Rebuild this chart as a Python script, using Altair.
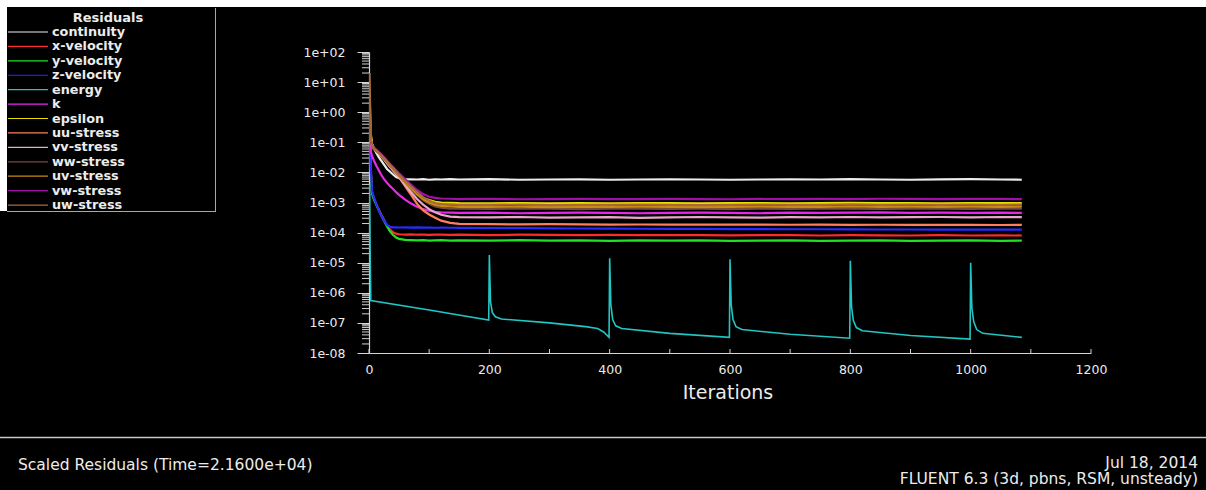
import altair as alt
import pandas as pd

# ---------------- data ----------------
NAMES = ["continuity", "x-velocity", "y-velocity", "z-velocity", "energy", "k", "epsilon",
         "uu-stress", "vv-stress", "ww-stress", "uv-stress", "vw-stress", "uw-stress"]
COLORS = ["#ececec", "#ff2a2a", "#22e022", "#2a2aff", "#22c4c4", "#e82ae8", "#e8e000",
          "#ff7f5a", "#e8a8c8", "#7a4a3a", "#c88a10", "#a010a8", "#a86838"]

ITER = [1, 2, 3, 5, 8, 12, 16, 20, 25, 30, 35, 40, 45, 50, 60, 70, 80, 90, 100, 110, 120, 135,
        150, 200, 250, 300, 350, 400, 450, 500, 550, 600, 650, 700, 750, 800, 850, 900, 950, 1000, 1050, 1085]

continuity = [1.0, 0.35, 0.16, 0.09, 0.065, 0.045, 0.033, 0.025, 0.018, 0.013, 0.0105, 0.0085, 0.007, 0.0064,
              0.0060, 0.0059, 0.0058, 0.0060, 0.0057, 0.0059, 0.0058, 0.0060,
              0.0058, 0.0060, 0.0057, 0.0058, 0.0059, 0.0057, 0.0058, 0.0059, 0.0058, 0.0057,
              0.0058, 0.0059, 0.0058, 0.0060, 0.0058, 0.0057, 0.0059, 0.0060, 0.0058, 0.0057]
x_velocity = [1.0, 0.12, 0.012, 2.2e-3, 1.4e-3, 9.0e-4, 6.0e-4, 4.0e-4, 2.6e-4, 1.7e-4, 1.25e-4, 1.02e-4, 9.2e-5, 8.8e-5,
              8.6e-5, 8.7e-5, 8.5e-5, 8.6e-5, 8.4e-5, 8.6e-5, 8.5e-5, 8.4e-5,
              8.5e-5, 8.3e-5, 8.5e-5, 8.4e-5, 8.2e-5, 8.4e-5, 8.3e-5, 8.2e-5, 8.3e-5, 8.1e-5,
              8.3e-5, 8.2e-5, 8.0e-5, 8.2e-5, 8.1e-5, 8.0e-5, 8.2e-5, 8.0e-5, 8.1e-5, 8.0e-5]
y_velocity = [1.0, 0.1, 0.01, 2.0e-3, 1.3e-3, 8.5e-4, 5.7e-4, 3.9e-4, 2.5e-4, 1.6e-4, 1.1e-4, 8.3e-5, 6.9e-5, 6.2e-5,
              5.7e-5, 5.6e-5, 5.5e-5, 5.6e-5, 5.4e-5, 5.5e-5, 5.6e-5, 5.4e-5,
              5.5e-5, 5.4e-5, 5.6e-5, 5.4e-5, 5.5e-5, 5.3e-5, 5.5e-5, 5.4e-5, 5.5e-5, 5.3e-5,
              5.4e-5, 5.5e-5, 5.3e-5, 5.4e-5, 5.5e-5, 5.3e-5, 5.4e-5, 5.5e-5, 5.3e-5, 5.4e-5]
z_velocity = [1.0, 0.15, 0.015, 2.5e-3, 1.5e-3, 9.0e-4, 5.8e-4, 3.8e-4, 2.5e-4, 1.8e-4, 1.55e-4, 1.5e-4, 1.49e-4, 1.48e-4,
              1.5e-4, 1.47e-4, 1.48e-4, 1.46e-4, 1.47e-4, 1.45e-4, 1.46e-4, 1.45e-4,
              1.44e-4, 1.42e-4, 1.40e-4, 1.38e-4, 1.37e-4, 1.35e-4, 1.34e-4, 1.33e-4, 1.32e-4, 1.31e-4,
              1.30e-4, 1.29e-4, 1.29e-4, 1.28e-4, 1.27e-4, 1.27e-4, 1.26e-4, 1.26e-4, 1.25e-4, 1.25e-4]
k_vals = [1.0, 0.08, 0.05, 0.035, 0.025, 0.017, 0.012, 8.5e-3, 6.0e-3, 4.5e-3, 3.5e-3, 2.8e-3, 2.2e-3, 1.8e-3,
          1.25e-3, 9.2e-4, 7.2e-4, 6.0e-4, 5.3e-4, 4.9e-4, 4.7e-4, 4.6e-4,
          4.5e-4, 4.6e-4, 4.4e-4, 4.5e-4, 4.6e-4, 4.5e-4, 4.4e-4, 4.5e-4, 4.6e-4, 4.5e-4,
          4.4e-4, 4.6e-4, 4.5e-4, 4.6e-4, 4.7e-4, 4.5e-4, 4.6e-4, 4.5e-4, 4.6e-4, 4.5e-4]
epsilon = [4.0, 0.8, 0.2, 0.08, 0.065, 0.055, 0.046, 0.038, 0.030, 0.023, 0.017, 0.013, 9.8e-3, 7.5e-3,
           4.5e-3, 2.9e-3, 1.9e-3, 1.4e-3, 1.2e-3, 1.05e-3, 1.0e-3, 9.7e-4,
           9.5e-4, 9.4e-4, 9.6e-4, 9.3e-4, 9.5e-4, 9.4e-4, 9.6e-4, 9.5e-4, 9.3e-4, 9.5e-4,
           9.6e-4, 9.4e-4, 9.5e-4, 9.7e-4, 9.5e-4, 9.6e-4, 9.4e-4, 9.6e-4, 9.5e-4, 9.6e-4]
uu_stress = [1.5, 0.25, 0.10, 0.075, 0.062, 0.052, 0.044, 0.036, 0.028, 0.021, 0.016, 0.012, 9.2e-3, 7.0e-3,
             3.5e-3, 1.8e-3, 9.0e-4, 5.5e-4, 4.0e-4, 3.1e-4, 2.5e-4, 2.1e-4,
             1.95e-4, 1.9e-4, 1.88e-4, 1.9e-4, 1.87e-4, 1.85e-4, 1.86e-4, 1.84e-4, 1.85e-4, 1.83e-4,
             1.84e-4, 1.82e-4, 1.83e-4, 1.81e-4, 1.82e-4, 1.8e-4, 1.81e-4, 1.8e-4, 1.79e-4, 1.8e-4]
vv_stress = [1.2, 0.22, 0.095, 0.07, 0.060, 0.050, 0.042, 0.035, 0.027, 0.020, 0.015, 0.0115, 8.8e-3, 6.8e-3,
             3.8e-3, 2.2e-3, 1.3e-3, 8.5e-4, 6.0e-4, 4.7e-4, 3.9e-4, 3.4e-4,
             3.25e-4, 3.2e-4, 3.3e-4, 3.15e-4, 3.2e-4, 3.25e-4, 3.1e-4, 3.2e-4, 3.3e-4, 3.2e-4,
             3.15e-4, 3.25e-4, 3.2e-4, 3.3e-4, 3.2e-4, 3.25e-4, 3.3e-4, 3.2e-4, 3.3e-4, 3.25e-4]
ww_stress = [8.0, 0.5, 0.11, 0.072, 0.061, 0.052, 0.044, 0.037, 0.029, 0.022, 0.017, 0.013, 0.010, 7.8e-3,
             4.7e-3, 2.9e-3, 1.8e-3, 1.2e-3, 9.0e-4, 7.4e-4, 6.7e-4, 6.3e-4,
             6.2e-4, 6.1e-4, 6.3e-4, 6.2e-4, 6.0e-4, 6.2e-4, 6.3e-4, 6.1e-4, 6.2e-4, 6.0e-4,
             6.2e-4, 6.1e-4, 6.3e-4, 6.2e-4, 6.1e-4, 6.3e-4, 6.2e-4, 6.1e-4, 6.3e-4, 6.2e-4]
uv_stress = [2.0, 0.3, 0.12, 0.078, 0.064, 0.054, 0.045, 0.037, 0.029, 0.022, 0.017, 0.013, 0.0100, 7.8e-3,
             4.8e-3, 3.0e-3, 1.9e-3, 1.3e-3, 1.0e-3, 8.4e-4, 7.7e-4, 7.4e-4,
             7.2e-4, 7.1e-4, 7.3e-4, 7.0e-4, 7.2e-4, 7.1e-4, 7.3e-4, 7.2e-4, 7.0e-4, 7.2e-4,
             7.3e-4, 7.1e-4, 7.2e-4, 7.4e-4, 7.2e-4, 7.3e-4, 7.1e-4, 7.3e-4, 7.2e-4, 7.3e-4]
vw_stress = [3.0, 0.35, 0.12, 0.08, 0.066, 0.056, 0.048, 0.040, 0.032, 0.025, 0.019, 0.015, 0.0118, 9.3e-3,
             6.0e-3, 3.9e-3, 2.6e-3, 1.9e-3, 1.55e-3, 1.42e-3, 1.36e-3, 1.33e-3,
             1.3e-3, 1.32e-3, 1.28e-3, 1.3e-3, 1.31e-3, 1.29e-3, 1.3e-3, 1.32e-3, 1.3e-3, 1.28e-3,
             1.31e-3, 1.3e-3, 1.32e-3, 1.3e-3, 1.33e-3, 1.31e-3, 1.3e-3, 1.32e-3, 1.31e-3, 1.3e-3]
uw_stress = [20.0, 1.0, 0.14, 0.076, 0.063, 0.053, 0.045, 0.038, 0.030, 0.023, 0.018, 0.014, 0.0108, 8.4e-3,
             5.3e-3, 3.4e-3, 2.2e-3, 1.5e-3, 1.15e-3, 9.6e-4, 8.9e-4, 8.6e-4,
             8.4e-4, 8.3e-4, 8.5e-4, 8.2e-4, 8.4e-4, 8.3e-4, 8.5e-4, 8.4e-4, 8.2e-4, 8.4e-4,
             8.5e-4, 8.3e-4, 8.4e-4, 8.6e-4, 8.4e-4, 8.5e-4, 8.3e-4, 8.5e-4, 8.4e-4, 8.5e-4]

E_ITER = [1, 2, 3, 100, 199, 200, 202, 205, 210, 220, 300, 360, 380, 390, 399,
          400, 402, 405, 410, 420, 500, 599, 600, 602, 605, 610, 620, 700, 799,
          800, 802, 805, 810, 820, 900, 999, 1000, 1002, 1005, 1010, 1020, 1085]
E_VAL = [4e-3, 1.5e-5, 5.5e-7, 2.7e-7, 1.25e-7, 1.8e-5, 5e-7, 2.2e-7, 1.6e-7, 1.35e-7, 1e-7, 7.5e-8, 6.5e-8, 5e-8, 3.3e-8,
         1.4e-5, 4e-7, 1.3e-7, 8e-8, 6.5e-8, 4.5e-8, 3.3e-8, 1.3e-5, 4e-7, 1.3e-7, 7.5e-8, 6e-8, 4.2e-8, 3.1e-8,
         1.15e-5, 3.5e-7, 1.2e-7, 7e-8, 5.5e-8, 3.8e-8, 2.9e-8, 1e-5, 3.2e-7, 1.1e-7, 6e-8, 4.5e-8, 3.3e-8]

Y_TICKS = [1e-8, 1e-7, 1e-6, 1e-5, 1e-4, 1e-3, 1e-2, 1e-1, 1e0, 1e1, 1e2]
Y_MINOR = [m * 10.0 ** e for e in range(-8, 2) for m in range(2, 10)]
X_TICKS = [0, 200, 400, 600, 800, 1000, 1200]
X_MINOR = [0, 100, 200, 300, 400, 500, 600, 700, 800, 900, 1000, 1100, 1200]

series = {
    "continuity": continuity, "x-velocity": x_velocity, "y-velocity": y_velocity,
    "z-velocity": z_velocity, "k": k_vals, "epsilon": epsilon, "uu-stress": uu_stress,
    "vv-stress": vv_stress, "ww-stress": ww_stress, "uv-stress": uv_stress,
    "vw-stress": vw_stress, "uw-stress": uw_stress,
}
rows = []
for name, vals in series.items():
    for it, v in zip(ITER, vals):
        rows.append({"iter": it, "value": v, "series": name})
energy_rows = [{"iter": it, "value": v, "series": "energy"} for it, v in zip(E_ITER, E_VAL)]
df = pd.DataFrame(rows)
df_energy = pd.DataFrame(energy_rows)

legend_df = pd.DataFrame({"name": NAMES, "row": list(range(len(NAMES)))})
one = pd.DataFrame({"k": [0]})

FONT = "DejaVu Sans"
TXT = "#ececec"
AX = "#d4d4d4"

xscale = alt.Scale(domain=[0, 1200], nice=False, zero=False)
yscale = alt.Scale(type="log", domain=[1e-8, 100], nice=False)
cscale = alt.Scale(domain=NAMES, range=COLORS)

label_expr = ("'1e' + (datum.value >= 1 ? '+' : '-') + "
              "pad(toString(abs(round(log(datum.value) / LN10))), 2, '0', 'left')")

# --------------- decorations ---------------
def rect(x1, x2, y1, y2, fill):
    return alt.Chart(one).mark_rect(fill=fill, strokeWidth=0).encode(
        x=alt.value(x1), x2=alt.value(x2), y=alt.value(y1), y2=alt.value(y2))

def hline(x1, x2, y, color, w=1):
    return alt.Chart(one).mark_rule(color=color, strokeWidth=w).encode(
        x=alt.value(x1), x2=alt.value(x2), y=alt.value(y))

def vline(x, y1, y2, color, w=1):
    return alt.Chart(one).mark_rule(color=color, strokeWidth=w).encode(
        x=alt.value(x), y=alt.value(y1), y2=alt.value(y2))

def label(x, y, text, size, align="left", weight="normal"):
    return alt.Chart(one).mark_text(font=FONT, fontSize=size, color=TXT, align=align,
                                    baseline="middle", fontWeight=weight).encode(
        x=alt.value(x), y=alt.value(y), text=alt.value(text))

top_strip = rect(-369, 837, -52, -45, "#ffffff")
left_strip = rect(-369, -362, -52, 159, "#ffffff")
leg_right = vline(-153.5, -44, 159.5, "#a8a8a8")
leg_bottom = hline(-362, -153, 159.5, "#a8a8a8")
separator = hline(-369, 837, 385.5, "#c8c8c8", 1.5)

# --------------- main lines ---------------
x_axis = alt.Axis(values=X_TICKS, format="d", tickSize=0, labelPadding=10, labelFlush=False,
                  labelFont=FONT, labelFontSize=12.5, labelColor=TXT,
                  domainColor=AX, domainWidth=1.2, grid=False, title=None)
y_axis = alt.Axis(values=Y_TICKS, labelExpr=label_expr, tickSize=12, tickColor=AX,
                  tickWidth=1, labelPadding=12, labelFlush=False, labelFont=FONT,
                  labelFontSize=12.5, labelColor=TXT, domainColor=AX, domainWidth=1.2,
                  grid=False, title=None)

lines = alt.Chart(df).mark_line(strokeWidth=2.2, clip=True).encode(
    x=alt.X("iter:Q", scale=xscale, axis=x_axis),
    y=alt.Y("value:Q", scale=yscale, axis=y_axis),
    color=alt.Color("series:N", scale=cscale, legend=None),
    detail="series:N",
)
energy = alt.Chart(df_energy).mark_line(strokeWidth=1.6, clip=True).encode(
    x=alt.X("iter:Q", scale=xscale, axis=None),
    y=alt.Y("value:Q", scale=yscale, axis=None),
    color=alt.Color("series:N", scale=cscale, legend=None),
)

minor_y = alt.Chart(pd.DataFrame({"v": Y_MINOR})).mark_rule(color=AX, strokeWidth=1).encode(
    y=alt.Y("v:Q", scale=yscale, axis=None), x=alt.value(-7), x2=alt.value(0))

minor_x = alt.Chart(pd.DataFrame({"t": X_MINOR})).mark_rule(color=AX, strokeWidth=1).encode(
    x=alt.X("t:Q", scale=xscale, axis=None), y=alt.value(301), y2=alt.value(297))

# --------------- legend ---------------
leg_base = alt.Chart(legend_df).transform_calculate(ypx="-20 + datum.row * 14.42")
leg_lines = leg_base.mark_rule(strokeWidth=1.2).encode(
    x=alt.value(-361), x2=alt.value(-321),
    y=alt.Y("ypx:Q", scale=None, axis=None),
    color=alt.Color("name:N", scale=cscale, legend=None))
leg_text = leg_base.mark_text(font=FONT, fontSize=12.8, fontWeight="bold", color=TXT,
                              align="left", baseline="middle").encode(
    x=alt.value(-317), y=alt.Y("ypx:Q", scale=None, axis=None), text="name:N")
leg_title = label(-261, -34, "Residuals", 13, align="center", weight="bold")

x_title = label(359, 341, "Iterations", 19, align="center")
bl_text = label(-351, 413, "Scaled Residuals  (Time=2.1600e+04)", 15.5)
br_text1 = label(829, 411, "Jul 18, 2014", 15.5, align="right")
br_text2 = label(829, 427, "FLUENT 6.3 (3d, pbns, RSM, unsteady)", 15.5, align="right")

chart = alt.layer(
    top_strip, left_strip, leg_right, leg_bottom, separator,
    minor_y, minor_x, lines, energy,
    leg_lines, leg_text, leg_title, x_title, bl_text, br_text1, br_text2,
).resolve_scale(
    x="independent", y="independent", color="independent"
).properties(
    width=722, height=301,
    autosize=alt.AutoSizeParams(type="none"),
    padding={"left": 369, "top": 52, "right": 115, "bottom": 137},
    background="#000000",
).configure_view(stroke=None)

chart.save("out.html", embed_options={"renderer": "svg", "actions": False})
